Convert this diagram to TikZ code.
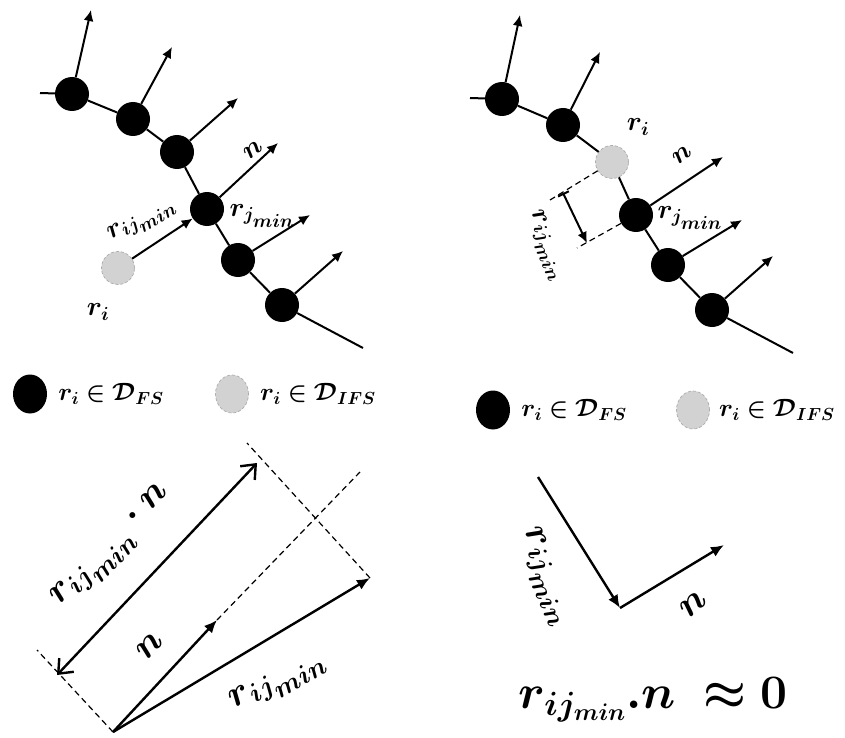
\RequirePackage{fix-cm}
\documentclass[tikz,border=0pt]{standalone}
\usepackage{amsmath, amssymb}
\usepackage{bm}
\usepackage{tikz}
\usetikzlibrary{arrows.meta, shapes.geometric}

\newcommand{\rij}{\bm{r_{ij_{\scriptstyle min}}}}
\newcommand{\rj}{\bm{r_{j_{\scriptstyle min}}}}

\tikzset{
  ball/.style={circle, fill=black, minimum size=34pt, inner sep=0pt},
  ghost/.style={circle, fill=gray!35, draw=gray!65, densely dashed, line width=0.7pt, minimum size=33pt, inner sep=0pt},
  legball/.style={ellipse, fill=black, minimum width=34pt, minimum height=39pt, inner sep=0pt},
  legghost/.style={ellipse, fill=gray!35, draw=gray!65, densely dashed, line width=0.7pt, minimum width=33pt, minimum height=38pt, inner sep=0pt},
  chain/.style={line width=2pt},
  normal/.style={line width=2pt, -{Latex[length=11pt,width=10pt]}},
  vec/.style={line width=2.4pt, -{Latex[length=13pt,width=11pt]}},
  guide/.style={line width=1.2pt, dash pattern=on 6pt off 4pt},
  lbl/.style={font=\fontsize{27}{32}\selectfont, inner sep=0pt},
  legtxt/.style={font=\fontsize{25}{30}\selectfont, inner sep=1pt},
  biglbl/.style={font=\fontsize{38}{44}\selectfont, inner sep=0pt},
  eqn/.style={font=\fontsize{48}{54}\selectfont, inner sep=1pt}
}

\begin{document}
\begin{tikzpicture}[x=1pt,y=-1pt]
\useasboundingbox (0,0) rectangle (845,738);

\coordinate (a0) at (40,93);
\node[ball] (a1) at (72,94) {};
\node[ball] (a2) at (133,119) {};
\node[ball] (a3) at (177,152) {};
\node[ball] (a4) at (207,209) {};
\node[ball] (a5) at (238,260) {};
\node[ball] (a6) at (282,305) {};
\coordinate (a7) at (363,348);
\node[ghost] (gi) at (118,268) {};

\coordinate (na1) at (91,10);
\coordinate (na2) at (172,47);
\coordinate (na3) at (238,98);
\coordinate (na4) at (278,143);
\coordinate (na5) at (310,215);
\coordinate (na6) at (343,251);

\draw[chain] (a0) -- (a1) -- (a2) -- (a3) -- (a4) -- (a5) -- (a6) -- (a7);
\draw[normal] (a1) -- (na1);
\draw[normal] (a2) -- (na2);
\draw[normal] (a3) -- (na3);
\draw[normal] (a4) -- (na4);
\draw[normal] (a5) -- (na5);
\draw[normal] (a6) -- (na6);
\draw[normal] (gi) -- (a4);

\node[lbl, rotate=37] (ln) at (253,150) {$\bm{n}$};
\node[lbl, rotate=30] (lrij) at (142,221) {$\rij$};
\node[lbl] (lrj) at (262,216) {$\rj$};
\node[lbl] (lri) at (98,312) {$\bm{r_i}$};

\coordinate (b0) at (470,98);
\node[ball] (b1) at (502,99) {};
\node[ball] (b2) at (563,125) {};
\node[ghost] (gj) at (612,162) {};
\node[ball] (b4) at (636,215) {};
\node[ball] (b5) at (668,265) {};
\node[ball] (b6) at (712,310) {};
\coordinate (b7) at (793,353);

\coordinate (nb1) at (520,15);
\coordinate (nb2) at (600,52);
\coordinate (nb4) at (723,157);
\coordinate (nb5) at (742,220);
\coordinate (nb6) at (773,256);

\draw[chain] (b0) -- (b1) -- (b2) -- (gj) -- (b4) -- (b5) -- (b6) -- (b7);
\draw[normal] (b1) -- (nb1);
\draw[normal] (b2) -- (nb2);
\draw[normal] (b4) -- (nb4);
\draw[normal] (b5) -- (nb5);
\draw[normal] (b6) -- (nb6);

\coordinate (e1) at (550,200);
\coordinate (e2) at (577,248);
\coordinate (d1) at (563,193);
\coordinate (d2) at (587,243);
\draw[guide] (gj) -- (e1);
\draw[guide] (b4) -- (e2);
\draw[line width=2pt, {Bar[width=12pt]}-{Latex[length=11pt,width=10pt]}] (d1) -- (d2);

\node[lbl] (mri) at (638,127) {$\bm{r_i}$};
\node[lbl, rotate=37] (mn) at (682,155) {$\bm{n}$};
\node[lbl] (mrj) at (690,218) {$\rj$};
\node[lbl, rotate=-67] (mrij) at (546,246) {$\rij$};

\node[legball] (k1) at (30,394) {};
\node[legtxt, anchor=west] (t1) at ([xshift=10pt]k1.east) {$\bm{r_i \in \mathcal{D}_{FS}}$};
\node[legghost] (k2) at (232,394) {};
\node[legtxt, anchor=west] (t2) at ([xshift=10pt]k2.east) {$\bm{r_i \in \mathcal{D}_{IFS}}$};
\node[legball] (k3) at (493,410) {};
\node[legtxt, anchor=west] (t3) at ([xshift=10pt]k3.east) {$\bm{r_i \in \mathcal{D}_{FS}}$};
\node[legghost] (k4) at (693,410) {};
\node[legtxt, anchor=west] (t4) at ([xshift=8pt]k4.east) {$\bm{r_i \in \mathcal{D}_{IFS}}$};

\coordinate (o) at (113,732);
\coordinate (ntip) at (217,620);
\coordinate (nend) at (360,472);
\coordinate (rtip) at (370,578);
\coordinate (p1) at (37,650);
\coordinate (p2) at (247,443);
\coordinate (q1) at (57,675);
\coordinate (q2) at (257,463);

\draw[guide] (o) -- (p1);
\draw[guide] (ntip) -- (nend);
\draw[guide] (rtip) -- (p2);
\draw[vec] (o) -- (ntip);
\draw[vec] (o) -- (rtip);
\draw[line width=2.4pt, {Straight Barb[length=12pt,width=20pt]}-{Straight Barb[length=12pt,width=20pt]}] (q1) -- (q2);

\node[biglbl, rotate=46] (lproj) at (113,548) {$\rij\bm{\cdot n}$};
\node[biglbl, rotate=46] (lnb) at (150,646) {$\bm{n}$};
\node[biglbl, rotate=30] (lrb) at (278,682) {$\rij$};

\coordinate (s0) at (538,477);
\coordinate (s1) at (620,608);
\coordinate (s2) at (724,545);
\draw[vec] (s0) -- (s1);
\draw[vec] (s1) -- (s2);

\node[biglbl, rotate=-67] (lrs) at (545,577) {$\rij$};
\node[biglbl, rotate=40] (lns) at (693,604) {$\bm{n}$};
\node[eqn] (eq) at (653,700) {$\bm{r_{ij_{min}}.n\ \approx 0}$};
\end{tikzpicture}
\end{document}
